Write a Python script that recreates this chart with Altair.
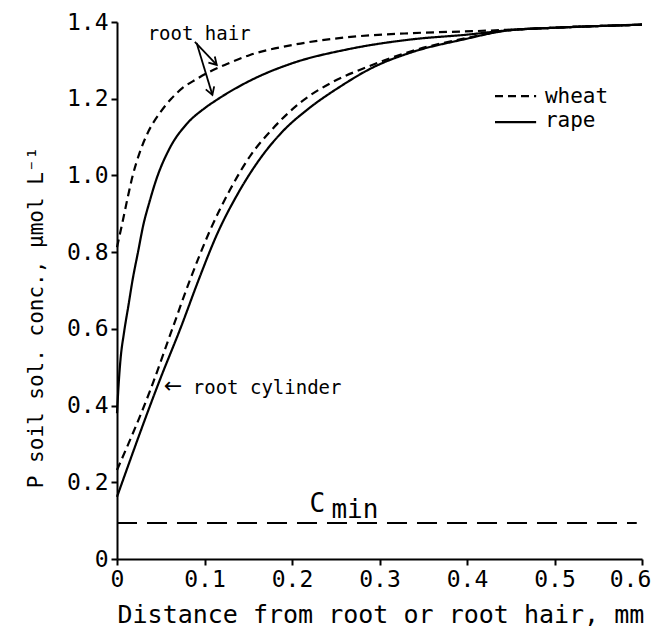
import altair as alt
import pandas as pd

# ---------------- data ----------------
wheat_hair_x = [0, 0.006, 0.012, 0.018, 0.026, 0.036, 0.049, 0.062, 0.075, 0.09, 0.103, 0.125, 0.152, 0.205, 0.262, 0.338, 0.406, 0.45, 0.5, 0.6]
wheat_hair_y = [0.813, 0.875, 0.94, 1.0, 1.06, 1.115, 1.163, 1.2, 1.228, 1.25, 1.267, 1.29, 1.314, 1.342, 1.36, 1.371, 1.376, 1.38, 1.385, 1.393]

rape_hair_x = [0, 0.002, 0.004, 0.008, 0.013, 0.018, 0.024, 0.030, 0.037, 0.045, 0.06, 0.08, 0.10, 0.114, 0.152, 0.201, 0.262, 0.338, 0.40, 0.45, 0.5, 0.6]
rape_hair_y = [0.38, 0.46, 0.52, 0.59, 0.66, 0.73, 0.80, 0.87, 0.93, 0.99, 1.07, 1.135, 1.175, 1.197, 1.247, 1.293, 1.328, 1.355, 1.367, 1.379, 1.385, 1.393]

wheat_cyl_x = [0, 0.038, 0.064, 0.083, 0.106, 0.129, 0.152, 0.178, 0.209, 0.246, 0.285, 0.338, 0.395, 0.45, 0.5, 0.6]
wheat_cyl_y = [0.232, 0.44, 0.605, 0.725, 0.855, 0.962, 1.05, 1.122, 1.189, 1.243, 1.282, 1.325, 1.356, 1.379, 1.385, 1.393]

rape_cyl_x = [0, 0.049, 0.074, 0.092, 0.115, 0.138, 0.163, 0.189, 0.220, 0.254, 0.292, 0.338, 0.395, 0.45, 0.5, 0.6]
rape_cyl_y = [0.162, 0.467, 0.61, 0.72, 0.85, 0.952, 1.042, 1.114, 1.176, 1.23, 1.281, 1.322, 1.354, 1.379, 1.385, 1.393]

cmin_x = [0, 0.594]
cmin_y = 0.094

x_ticks = [0, 0.1, 0.2, 0.3, 0.4, 0.5, 0.6]
y_ticks = [0, 0.2, 0.4, 0.6, 0.8, 1.0, 1.2, 1.4]

species_names = ["wheat", "rape"]

# ---------------- tables ----------------
rows = []
for curve, sp, xs, ys in [
    ("wheat hair", "wheat", wheat_hair_x, wheat_hair_y),
    ("rape hair", "rape", rape_hair_x, rape_hair_y),
    ("wheat cyl", "wheat", wheat_cyl_x, wheat_cyl_y),
    ("rape cyl", "rape", rape_cyl_x, rape_cyl_y),
]:
    for i, (xv, yv) in enumerate(zip(xs, ys)):
        rows.append({"curve": curve, "species": sp, "x": xv, "y": yv, "order": i})
df = pd.DataFrame(rows)

cmin_df = pd.DataFrame({"x": [cmin_x[0]], "x2": [cmin_x[1]], "y": [cmin_y]})

FONT = "DejaVu Sans Mono"

X = alt.X("x:Q", scale=alt.Scale(domain=[0, 0.6], nice=False, zero=False),
          axis=alt.Axis(values=x_ticks,
                        labelExpr="datum.value == 0 ? '0' : format(datum.value, '.1f')",
                        labelOffset={"condition": {"test": "datum.value >= 0.6", "value": -12}, "value": 0},
                        title="Distance from root or root hair, mm",
                        titleX=0, titleY=63, titleBaseline="alphabetic",
                        titleAlign="left", titleAnchor="start"))
Y = alt.Y("y:Q", scale=alt.Scale(domain=[0, 1.4], nice=False, zero=False),
          axis=alt.Axis(values=y_ticks,
                        labelExpr="datum.value == 0 ? '0' : format(datum.value, '.1f')",
                        title="P soil sol. conc., µmol L⁻¹",
                        titleX=-75, titleY=295, titleAngle=270,
                        titleBaseline="alphabetic", titleAlign="center", titleAnchor="start"))

curves = alt.Chart(df).mark_line(color="black", strokeWidth=2.2, interpolate="monotone").encode(
    x=X, y=Y, detail="curve:N", order="order:Q",
    strokeDash=alt.StrokeDash("species:N",
                              scale=alt.Scale(domain=species_names, range=[[8, 5], [1, 0]]),
                              legend=None),
)

cmin_line = alt.Chart(cmin_df).mark_rule(color="black", strokeWidth=2, strokeDash=[20, 10]).encode(
    x="x:Q", x2="x2:Q", y="y:Q")

# ---------------- annotations ----------------
arrow_df = pd.DataFrame({
    "x": [0.089, 0.091],
    "y": [1.348, 1.345],
    "x2": [0.114, 0.109],
    "y2": [1.288, 1.21],
})
arrows = alt.Chart(arrow_df).mark_rule(color="black", strokeWidth=1.8).encode(
    x="x:Q", y="y:Q", x2="x2:Q", y2="y2:Q")

head_df = pd.DataFrame({"x": [0.114, 0.109], "y": [1.288, 1.21], "ang": [316, 341]})
heads = alt.Chart(head_df).mark_point(
    shape="M-0.6,-1L0,0L0.6,-1", filled=False, color="black", strokeWidth=1.8, size=220, opacity=1
).encode(x="x:Q", y="y:Q", angle=alt.Angle("ang:Q", scale=None))

label_df = pd.DataFrame({
    "x": [0.035, 0.0866],
    "y": [1.353, 0.430],
    "t": ["root hair", "root cylinder"],
})
labels = alt.Chart(label_df).mark_text(font=FONT, fontSize=19, align="left", baseline="alphabetic",
                                       color="black").encode(x="x:Q", y="y:Q", text="t:N")

larrow_df = pd.DataFrame({"x": [0.0535], "y": [0.433], "t": ["←"]})
larrow = alt.Chart(larrow_df).mark_text(font="DejaVu Sans", fontSize=22, align="left", baseline="alphabetic",
                                        color="black").encode(x="x:Q", y="y:Q", text="t:N")

c_df = pd.DataFrame({"x": [0.22], "y": [0.1225], "t": ["C"]})
c_text = alt.Chart(c_df).mark_text(font=FONT, fontSize=26, align="left", baseline="alphabetic",
                                   color="black").encode(x="x:Q", y="y:Q", text="t:N")
min_df = pd.DataFrame({"x": [0.245], "y": [0.107], "t": ["min"]})
min_text = alt.Chart(min_df).mark_text(font=FONT, fontSize=26, align="left", baseline="alphabetic",
                                       color="black").encode(x="x:Q", y="y:Q", text="t:N")

# legend (drawn manually)
leg_line_df = pd.DataFrame({
    "species": species_names,
    "x": [0.432, 0.432], "x2": [0.479, 0.479], "y": [1.207, 1.139],
})
leg_lines = alt.Chart(leg_line_df).mark_rule(color="black", strokeWidth=2.2).encode(
    x="x:Q", x2="x2:Q", y="y:Q",
    strokeDash=alt.StrokeDash("species:N",
                              scale=alt.Scale(domain=species_names, range=[[10, 5], [1, 0]]),
                              legend=None))
leg_text_df = pd.DataFrame({"species": species_names, "x": [0.489, 0.489], "y": [1.189, 1.127]})
leg_text = alt.Chart(leg_text_df).mark_text(font=FONT, fontSize=21, align="left", baseline="alphabetic",
                                            color="black").encode(x="x:Q", y="y:Q", text="species:N")

chart = alt.layer(
    curves, cmin_line, arrows, heads, labels, larrow, c_text, min_text, leg_lines, leg_text
).properties(
    width=525, height=537,
    autosize=alt.AutoSizeParams(type="none"),
    padding={"left": 109, "top": 14, "right": 11, "bottom": 70},
).configure_view(stroke=None).configure_axis(
    grid=False,
    domainColor="black", domainWidth=2,
    tickColor="black", tickWidth=2, tickSize=6,
    labelFont=FONT, labelFontSize=23, labelColor="black", labelPadding=3,
    labelFlush=False, labelOverlap=False, labelBound=False,
    titleFont=FONT, titleFontWeight="normal", titleColor="black",
).configure_axisX(titleFontSize=25).configure_axisY(titleFontSize=21)

chart.save("out.html", embed_options={"renderer": "svg", "actions": False})
